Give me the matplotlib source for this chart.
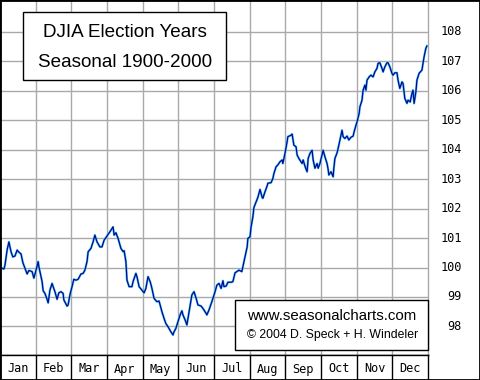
import matplotlib
matplotlib.use('Agg')
import matplotlib.pyplot as plt
import matplotlib.transforms as mtransforms
from matplotlib.patches import Rectangle
import numpy as np

months = ['Jan', 'Feb', 'Mar', 'Apr', 'May', 'Jun',
          'Jul', 'Aug', 'Sep', 'Oct', 'Nov', 'Dec']
yticks = np.arange(98, 109)

# position in the year (months since Jan 1) and seasonal index value
x_month = np.array([
    0.00, 0.11, 0.14, 0.20, 0.25, 0.31, 0.36, 0.42, 0.48, 0.53,
    0.59, 0.64, 0.76, 0.81, 0.90, 0.95, 1.01, 1.07, 1.09, 1.18,
    1.21, 1.26, 1.32, 1.35, 1.40, 1.46, 1.49, 1.54, 1.60, 1.65,
    1.71, 1.77, 1.79, 1.88, 1.91, 1.96, 2.02, 2.07, 2.13, 2.19,
    2.27, 2.33, 2.38, 2.44, 2.47, 2.55, 2.61, 2.66, 2.72, 2.80,
    2.86, 2.92, 3.00, 3.06,
    3.08, 3.17, 3.20, 3.25, 3.31, 3.39, 3.45, 3.48, 3.53, 3.56,
    3.62, 3.70, 3.73, 3.81, 3.84, 3.90, 3.98, 4.04, 4.09, 4.15,
    4.21, 4.26, 4.32, 4.40, 4.46, 4.54, 4.60, 4.65, 4.71, 4.79,
    4.85, 4.88, 4.93, 4.99, 5.05, 5.10, 5.13, 5.19, 5.24, 5.27,
    5.33, 5.38, 5.44, 5.50, 5.55, 5.64, 5.69, 5.78, 5.80, 5.86,
    5.94,
    6.03, 6.08, 6.14, 6.20, 6.25, 6.28, 6.34, 6.39, 6.48, 6.53,
    6.59, 6.64, 6.70, 6.78, 6.81, 6.87, 6.93, 6.95, 7.01, 7.04,
    7.09, 7.12, 7.18, 7.23, 7.29, 7.35, 7.37, 7.43, 7.49, 7.51,
    7.60, 7.65, 7.68, 7.74, 7.79, 7.85, 7.91, 7.93, 7.99, 8.05,
    8.07, 8.16, 8.19,
    8.24, 8.30, 8.33, 8.38, 8.47, 8.50, 8.55, 8.61, 8.64, 8.69,
    8.75, 8.78, 8.83, 8.89, 8.92, 8.97, 9.03, 9.06, 9.11, 9.17,
    9.20, 9.22, 9.28, 9.34, 9.36, 9.39, 9.45, 9.48, 9.53, 9.59,
    9.62, 9.67, 9.73, 9.78, 9.84, 9.90, 9.93, 9.98, 10.01, 10.07,
    10.09, 10.15, 10.18, 10.23, 10.26, 10.29, 10.35, 10.40, 10.46, 10.51,
    10.57, 10.60, 10.65, 10.71, 10.74, 10.79, 10.85, 10.88, 10.93, 10.99,
    11.02, 11.07, 11.13, 11.16, 11.21, 11.27, 11.30, 11.35, 11.41, 11.44,
    11.50, 11.55, 11.58, 11.61, 11.66, 11.69, 11.75, 11.83, 11.86, 11.89,
    11.94, 11.97,
])
djia = np.array([
    100.00, 99.95, 100.08, 100.60, 100.87, 100.53, 100.36, 100.39, 100.59, 100.52,
    100.46, 100.17, 99.78, 99.90, 99.86, 99.64, 99.91, 100.20, 100.03, 99.52,
    99.21, 99.12, 98.92, 98.80, 99.23, 99.46, 99.35, 99.18, 98.92, 99.14,
    99.18, 99.12, 98.90, 98.69, 98.73, 99.07, 99.35, 99.60, 99.57, 99.60,
    99.78, 99.80, 99.91, 100.20, 100.53, 100.65, 100.87, 101.10, 100.87, 100.70,
    100.70, 100.93, 101.07, 101.18,
    101.21, 101.38, 101.10, 101.18, 100.99, 100.65, 100.54, 100.57, 100.20, 99.57,
    99.35, 99.35, 99.52, 99.80, 99.69, 99.35, 99.23, 99.14, 99.29, 99.69,
    99.52, 99.29, 98.95, 98.84, 98.86, 98.50, 98.27, 98.10, 97.99, 97.82,
    97.71, 97.82, 97.93, 98.16, 98.39, 98.53, 98.39, 98.22, 98.05, 98.27,
    98.73, 99.07, 99.18, 98.95, 98.73, 98.69, 98.61, 98.44, 98.39, 98.56,
    98.84,
    99.18, 99.40, 99.46, 99.29, 99.55, 99.35, 99.37, 99.50, 99.50, 99.52,
    99.82, 99.86, 99.91, 99.86, 100.03, 100.37, 100.70, 100.99, 101.04, 101.38,
    101.72, 102.04, 102.23, 102.38, 102.65, 102.38, 102.35, 102.57, 102.77, 102.86,
    102.88, 103.02, 103.19, 103.42, 103.48, 103.59, 103.65, 103.53, 103.87, 104.27,
    104.44, 104.49, 104.53,
    104.15, 104.10, 103.82, 103.70, 103.53, 103.65, 103.44, 103.25, 103.70, 103.87,
    103.98, 103.65, 103.37, 103.53, 103.37, 103.53, 103.82, 103.98, 103.76, 103.53,
    103.33, 103.14, 103.25, 103.08, 103.37, 103.70, 103.89, 104.04, 104.33, 104.66,
    104.44, 104.38, 104.46, 104.33, 104.42, 104.46, 104.61, 104.83, 104.94, 105.23,
    105.45, 105.68, 106.02, 106.19, 106.02, 106.36, 106.47, 106.53, 106.47, 106.64,
    106.76, 106.93, 106.95, 106.76, 106.64, 106.81, 106.95, 106.95, 106.81, 106.59,
    106.53, 106.61, 106.61, 106.36, 106.08, 106.30, 106.25, 105.74, 105.57, 105.68,
    105.62, 105.91, 106.02, 105.57, 105.96, 106.36, 106.59, 106.70, 106.93, 107.15,
    107.44, 107.52,
])

W, H = 480, 380
tick_font = dict(family='DejaVu Sans Mono', fontsize=8.6, color='black')

fig = plt.figure(figsize=(W / 100, H / 100), dpi=100)

# main chart area
ax = fig.add_axes([0, 25 / H, 428 / W, 355 / H])
ax.set_xlim(0, 12)
ax.set_ylim(97.03, 109.08)
ax.set_xticks(np.arange(1, 12))
ax.set_yticks(yticks)
ax.grid(True, color='#a9a9a9', lw=1.0)
ax.tick_params(length=0, labelbottom=False, labelleft=False)
for side in ['left', 'top', 'bottom']:
    ax.spines[side].set_color('black')
    ax.spines[side].set_linewidth(1.0)
ax.spines['right'].set_color('#a9a9a9')
ax.spines['right'].set_linewidth(1.0)

ax.plot(x_month, djia, color='#40b8e8', lw=1.6, zorder=3)
ax.plot(x_month, djia, color='#000090', lw=0.8, zorder=4)

# y labels on the right
trans = mtransforms.blended_transform_factory(ax.transAxes, ax.transData)
for v in yticks:
    ax.text(462 / 428, v, str(v), transform=trans, ha='right', va='center',
            clip_on=False, **tick_font)

# title box
ax.add_patch(Rectangle((23 / 428, 275 / 355), 203 / 428, 68 / 355,
                       transform=ax.transAxes, fc='white', ec='black',
                       lw=1.0, zorder=5))
ax.text(0.292, 0.895, 'DJIA Election Years', transform=ax.transAxes,
        ha='center', va='baseline', fontsize=13.6, family='Liberation Sans', zorder=6)
ax.text(0.292, 0.812, 'Seasonal 1900-2000', transform=ax.transAxes,
        ha='center', va='baseline', fontsize=13.6, family='Liberation Sans', zorder=6)

# copyright box
ax.add_patch(Rectangle((235 / 428, 5 / 355), 193 / 428, 50 / 355,
                       transform=ax.transAxes, fc='white', ec='black',
                       lw=1.0, zorder=5, clip_on=False))
ax.text(0.776, 0.0986, 'www.seasonalcharts.com', transform=ax.transAxes,
        ha='center', va='baseline', fontsize=10.8, family='Liberation Sans', zorder=6)
ax.text(0.776, 0.048, '\u00a9 2004 D. Speck + H. Windeler', transform=ax.transAxes,
        ha='center', va='baseline', fontsize=8.8, family='Liberation Sans', zorder=6)

# month strip
sx = fig.add_axes([0, 0, 428 / W, 25 / H])
sx.set_xlim(0, 12)
sx.set_ylim(0, 1)
sx.set_xticks([])
sx.set_yticks([])
for s in sx.spines.values():
    s.set_color('black')
    s.set_linewidth(1.0)
sx.vlines(np.arange(1, 12), 0, 1, color='black', lw=1.0)
for i, m in enumerate(months):
    sx.text(i + 0.5, 0.30, m, ha='center', va='baseline', **tick_font)

# outer frame
fig.add_artist(Rectangle((0, 0), 1, 1, transform=fig.transFigure,
                         fill=False, ec='black', lw=2.0))

fig.savefig('out.png', dpi=100)
